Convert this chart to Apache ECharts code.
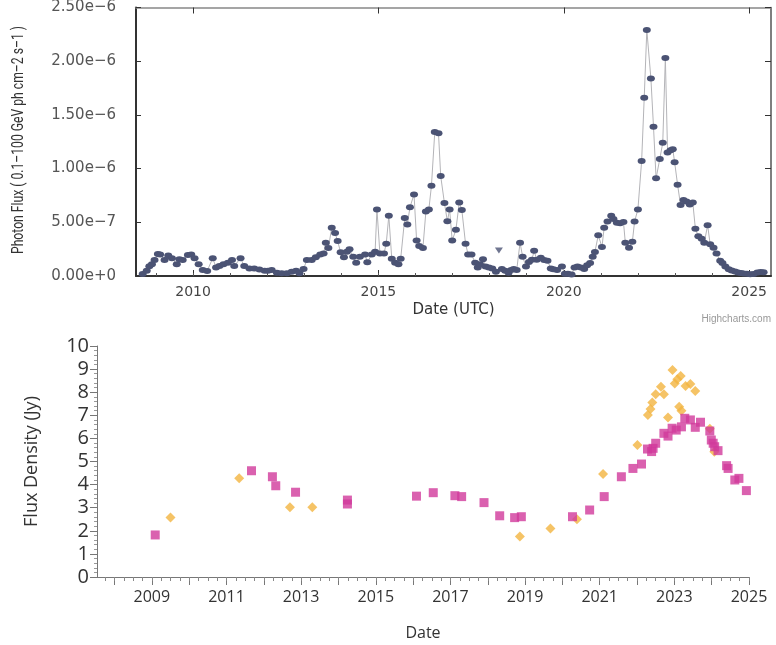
<!DOCTYPE html>
<html>
<head>
<meta charset="utf-8">
<script src="https://cdn.jsdelivr.net/npm/echarts@6/dist/echarts.min.js"></script>
<style>html,body{margin:0;padding:0;background:#fff}#c{width:776px;height:645px}</style>
</head>
<body>
<div id="c"></div>
<script>
// ---- Top panel: Fermi-LAT monthly photon flux (units of 1e-7 ph cm-2 s-1) ----
const fermiDates = [
  2008.64,2008.75,2008.82,2008.89,2008.96,
  2009.05,2009.11,2009.23,2009.33,2009.43,2009.56,2009.63,2009.72,2009.86,2009.95,
  2010.04,2010.15,2010.26,2010.38,2010.53,2010.62,2010.71,2010.82,2010.94,
  2011.05,2011.11,2011.28,2011.38,2011.52,2011.65,2011.79,2011.93,
  2012.02,2012.12,2012.26,2012.39,2012.53,2012.66,2012.78,2012.87,2012.98,
  2013.07,2013.20,2013.31,2013.43,2013.52,2013.58,2013.65,2013.74,2013.83,2013.90,2013.98,
  2014.07,2014.15,2014.22,2014.32,2014.40,2014.50,2014.64,2014.70,2014.82,2014.91,2014.96,
  2015.04,2015.15,2015.21,2015.28,2015.36,2015.45,2015.54,2015.60,2015.71,2015.78,2015.85,2015.96,
  2016.03,2016.10,2016.20,2016.28,2016.36,2016.43,2016.52,2016.62,2016.68,2016.78,2016.86,2016.92,2016.99,
  2017.09,2017.18,2017.25,2017.35,2017.42,2017.51,2017.61,2017.68,2017.74,2017.82,2017.89,2017.98,
  2018.07,2018.17,2018.33,2018.42,2018.51,2018.58,2018.65,2018.73,2018.82,2018.89,2018.98,
  2019.06,2019.14,2019.20,2019.27,2019.38,2019.47,2019.56,2019.65,2019.72,2019.82,2019.95,
  2020.03,2020.11,2020.21,2020.29,2020.37,2020.46,2020.55,2020.63,2020.71,2020.78,2020.84,2020.93,
  2021.03,2021.09,2021.18,2021.28,2021.34,2021.43,2021.52,2021.61,2021.66,2021.76,2021.85,2021.91,
  2022.00,2022.10,2022.17,2022.24,2022.35,2022.42,2022.49,2022.59,2022.67,2022.74,2022.80,2022.88,2022.94,2022.99,
  2023.07,2023.15,2023.23,2023.31,2023.40,2023.48,2023.55,2023.63,2023.72,2023.79,2023.88,2023.95,
  2024.04,2024.12,2024.22,2024.28,2024.36,2024.45,2024.53,2024.62,2024.70,2024.78,2024.85,2024.94,
  2025.03,2025.12,2025.22,2025.31,2025.39
];
const fermiFlux = [
  0.19,0.5,0.9,1.1,1.5,
  2.05,2.0,1.5,1.9,1.65,1.1,1.55,1.5,1.95,2.0,
  1.65,1.1,0.56,0.47,1.65,0.8,0.93,1.1,1.24,
  1.5,0.93,1.65,0.93,0.7,0.7,0.6,0.5,
  0.5,0.56,0.3,0.25,0.25,0.4,0.5,0.25,0.65,
  1.5,1.5,1.74,2.0,2.1,3.1,2.6,4.5,4.0,3.25,2.2,
  1.74,2.26,2.5,1.8,1.24,1.8,2.0,1.27,2.0,2.26,6.2,
  2.1,2.1,3.0,5.6,1.6,1.24,1.1,1.6,5.4,4.8,6.4,7.6,
  3.3,2.8,2.6,6.0,6.2,8.4,13.4,13.3,9.3,6.8,5.1,6.2,3.3,
  4.3,6.85,6.15,3.0,2.0,2.0,1.24,0.8,1.1,1.57,0.88,0.8,
  0.7,0.4,0.65,0.5,0.3,0.56,0.65,0.56,3.1,1.8,0.88,
  1.3,1.52,2.34,1.52,1.7,1.5,1.42,0.7,0.63,0.55,0.88,
  0.22,0.22,0.13,0.8,0.88,0.8,0.65,1.0,1.2,1.8,2.24,3.8,
  2.7,4.5,5.07,5.6,5.3,4.95,4.9,5.03,3.1,2.63,3.2,5.08,
  6.2,10.7,16.6,22.9,18.4,13.9,9.1,10.9,12.4,20.3,11.5,11.7,11.8,10.6,
  8.5,6.6,7.08,6.93,6.65,6.85,4.4,3.7,3.47,3.1,4.72,2.95,
  2.62,2.1,1.42,1.2,0.88,0.62,0.52,0.42,0.33,0.28,0.24,0.2,
  0.16,0.18,0.32,0.38,0.34
];
const upperLimitDates = [2018.25];
const upperLimitFlux = [2.38];
const topTickYears = [2010, 2015, 2020, 2025];
const topYTitle = 'Photon Flux ( 0.1\u2013100 GeV ph cm\u20132 s\u20131 )';

// ---- Bottom panel: radio flux density (Jy) ----
const squareDates = [2009.09,2011.67,2012.23,2012.32,2012.85,2014.24,2014.24,2016.09,2016.54,2017.12,2017.30,2017.90,2018.32,2018.72,2018.90,2020.27,2020.73,2021.12,2021.58,2021.89,2022.12,2022.28,2022.39,2022.43,2022.50,2022.72,2022.83,2022.94,2023.05,2023.19,2023.28,2023.43,2023.56,2023.70,2023.95,2023.99,2024.04,2024.08,2024.17,2024.40,2024.44,2024.62,2024.73,2024.93];
const squareFlux = [1.82,4.6,4.34,3.95,3.67,3.33,3.16,3.5,3.65,3.52,3.48,3.22,2.65,2.57,2.61,2.61,2.9,3.48,4.34,4.7,4.89,5.54,5.43,5.57,5.79,6.22,6.1,6.44,6.36,6.5,6.87,6.8,6.48,6.7,6.32,5.93,5.79,5.64,5.47,4.82,4.7,4.2,4.27,3.74];
const diamondDates = [2009.50,2011.34,2012.70,2013.30,2018.86,2019.68,2020.39,2021.09,2022.01,2022.29,2022.36,2022.41,2022.50,2022.64,2022.72,2022.83,2022.95,2023.01,2023.08,2023.17,2023.13,2023.19,2023.30,2023.43,2023.56,2023.95,2024.07];
const diamondFlux = [2.58,4.27,3.02,3.02,1.75,2.1,2.5,4.46,5.71,7.01,7.27,7.55,7.91,8.24,7.91,6.91,8.96,8.38,8.56,8.7,7.37,7.2,8.27,8.35,8.05,6.42,5.42];
const bottomLabelYears = [2009,2011,2013,2015,2017,2019,2021,2023,2025];

// tick positions
const topMinorYears = []; for (let y = 2009; y <= 2025; y++) topMinorYears.push(y);
const botMajorYears = []; for (let y = 2008; y <= 2025; y++) botMajorYears.push(y);
const botQuarterTicks = []; for (let y = 2007.75; y <= 2025.001; y += 0.25) botQuarterTicks.push(+y.toFixed(2));

const TOP_MIN = 2008.46, TOP_MAX = 2025.59;
const BOT_MIN = 2007.53, BOT_MAX = 2025;

function fluxLabel(v) {
  if (v === 0) return '0.00e+0';
  const e = v >= 10 ? 6 : 7;
  const m = v * 1e-7 * Math.pow(10, e);
  return m.toFixed(2) + 'e\u2212' + e;
}
const yearLabel = v => String(Math.round(v));

const chart = echarts.init(document.getElementById('c'), null, {renderer: 'canvas'});
const dv = 'DejaVu Sans';
const os = 'Open Sans';
chart.setOption({
  animation: false,
  backgroundColor: '#fff',
  grid: [
    {left: 136, top: 6, width: 635, height: 270},
    {left: 97, top: 346, width: 652, height: 231}
  ],
  xAxis: [
    { // 0 top panel bottom axis with labels
      type: 'value', gridIndex: 0, min: TOP_MIN, max: TOP_MAX, position: 'bottom',
      axisLine: {show: true, lineStyle: {color: '#333', width: 2}},
      axisTick: {show: true, inside: true, length: 6, customValues: topTickYears, lineStyle: {color: '#333'}},
      axisLabel: {customValues: topTickYears, formatter: yearLabel, fontFamily: dv, fontSize: 14, color: '#444', margin: 9},
      splitLine: {show: false},
      name: 'Date (UTC)', nameLocation: 'middle', nameGap: 27,
      nameTextStyle: {fontFamily: dv, fontSize: 15, color: '#333'}
    },
    { // 1 top panel minor yearly ticks
      type: 'value', gridIndex: 0, min: TOP_MIN, max: TOP_MAX, position: 'bottom',
      axisLine: {show: false},
      axisTick: {show: true, inside: true, length: 3, customValues: topMinorYears, lineStyle: {color: '#555'}},
      axisLabel: {show: false}, splitLine: {show: false}
    },
    { // 2 top panel top border
      type: 'value', gridIndex: 0, min: TOP_MIN, max: TOP_MAX, position: 'top',
      axisLine: {show: true, lineStyle: {color: '#888', width: 1.5}},
      axisTick: {show: true, inside: true, length: 6, customValues: topTickYears, lineStyle: {color: '#333'}},
      axisLabel: {show: false}, splitLine: {show: false}
    },
    { // 3 bottom panel main axis
      type: 'value', gridIndex: 1, min: BOT_MIN, max: BOT_MAX, position: 'bottom',
      axisLine: {show: true, onZero: false, lineStyle: {color: '#777', width: 1}},
      axisTick: {show: true, length: 8, customValues: botMajorYears, lineStyle: {color: '#777'}},
      axisLabel: {customValues: bottomLabelYears, formatter: yearLabel, fontFamily: os, fontSize: 16, color: '#333', margin: 12},
      splitLine: {show: false},
      name: 'Date', nameLocation: 'middle', nameGap: 48,
      nameTextStyle: {fontFamily: os, fontSize: 16, color: '#333'}
    },
    { // 4 bottom panel quarter ticks
      type: 'value', gridIndex: 1, min: BOT_MIN, max: BOT_MAX, position: 'bottom',
      axisLine: {show: false},
      axisTick: {show: true, length: 4, customValues: botQuarterTicks, lineStyle: {color: '#888'}},
      axisLabel: {show: false}, splitLine: {show: false}
    }
  ],
  yAxis: [
    { // 0 top left
      type: 'value', gridIndex: 0, min: 0, max: 25, interval: 5, position: 'left',
      axisLine: {show: true, lineStyle: {color: '#333', width: 2}},
      axisTick: {show: true, inside: true, length: 5, lineStyle: {color: '#333'}},
      axisLabel: {formatter: fluxLabel, fontFamily: dv, fontSize: 15, color: '#555', margin: 20},
      splitLine: {show: false}
    },
    { // 1 top right border
      type: 'value', gridIndex: 0, min: 0, max: 25, interval: 5, position: 'right',
      axisLine: {show: true, lineStyle: {color: '#555', width: 1.5}},
      axisTick: {show: true, inside: true, length: 6, lineStyle: {color: '#333'}},
      axisLabel: {show: false}, splitLine: {show: false}
    },
    { // 2 bottom
      type: 'value', gridIndex: 1, min: 0, max: 10, interval: 1, position: 'left',
      axisLine: {show: true, onZero: false, lineStyle: {color: '#777'}},
      axisTick: {show: true, length: 7, lineStyle: {color: '#777'}},
      minorTick: {show: true, splitNumber: 5, length: 3, lineStyle: {color: '#999'}},
      axisLabel: {fontFamily: os, fontSize: 20, color: '#333', margin: 8},
      splitLine: {show: false},
      name: 'Flux Density (Jy)', nameLocation: 'middle', nameGap: 56, nameRotate: 90,
      nameTextStyle: {fontFamily: os, fontSize: 18, color: '#333'}
    }
  ],
  series: [
    {
      type: 'line', xAxisIndex: 0, yAxisIndex: 0,
      data: fermiDates.map((d, i) => [d, fermiFlux[i]]),
      lineStyle: {color: '#b4b4b8', width: 1},
      symbol: 'circle', symbolSize: [8, 6],
      itemStyle: {color: '#4b5374', borderWidth: 0},
      showAllSymbol: true, z: 3
    },
    {
      type: 'scatter', xAxisIndex: 0, yAxisIndex: 0,
      data: upperLimitDates.map((d, i) => [d, upperLimitFlux[i]]),
      symbol: 'triangle', symbolRotate: 180, symbolSize: [8, 6],
      itemStyle: {color: '#4b5374'}, z: 3
    },
    {
      type: 'scatter', xAxisIndex: 3, yAxisIndex: 2,
      data: diamondDates.map((d, i) => [d, diamondFlux[i]]),
      symbol: 'diamond', symbolSize: 10,
      itemStyle: {color: '#f2b440'}, z: 3
    },
    {
      type: 'scatter', xAxisIndex: 3, yAxisIndex: 2,
      data: squareDates.map((d, i) => [d, squareFlux[i]]),
      symbol: 'rect', symbolSize: 9,
      itemStyle: {color: '#d1399b'}, z: 4
    }
  ],
  graphic: [
    {type: 'text', x: 19, y: 140, rotation: Math.PI / 2, scaleX: 0.76,
     style: {text: topYTitle, fontFamily: 'Liberation Sans Narrow, Roboto, sans-serif', fontSize: 16,
             fill: '#333', align: 'center', verticalAlign: 'middle'}},
    {type: 'text', right: 5, top: 314,
     style: {text: 'Highcharts.com', fontFamily: 'Liberation Sans', fontSize: 10, fill: '#999'}}
  ]
});
</script>
</body>
</html>
